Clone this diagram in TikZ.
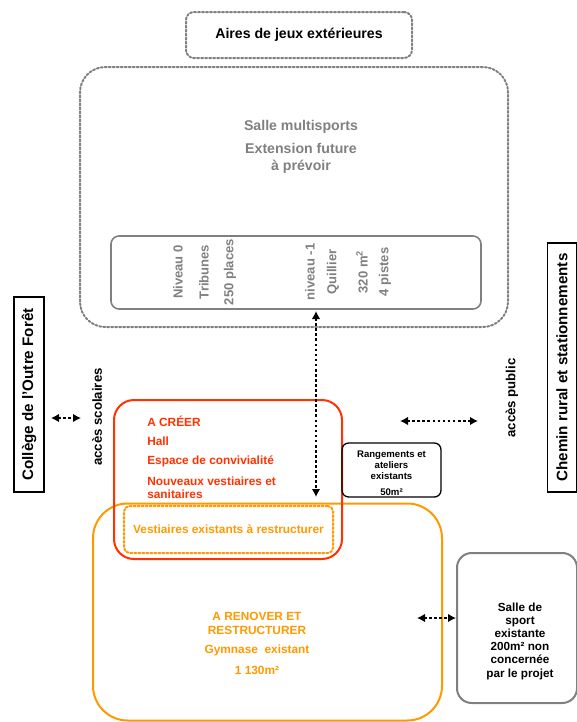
\documentclass[tikz,border=0pt]{standalone}
\usepackage{fontspec}
\setmainfont{Liberation Sans}
\usetikzlibrary{positioning,arrows.meta}
\definecolor{gris}{HTML}{808080}
\definecolor{rouge}{HTML}{FF3300}
\definecolor{jaune}{HTML}{FF9900}
\tikzset{>={Latex[length=6pt,width=6.5pt]}}
\tikzset{
  zone/.style = {draw, rounded corners=6pt, line width=1.5pt, inner sep=0pt},
  pointille/.style = {dash pattern=on 1.5pt off 1.5pt, line cap=round},
  txt/.style = {font=\bfseries\fontsize{10.6}{12}\selectfont, inner sep=0pt},
  moyen/.style = {font=\bfseries\fontsize{8.9}{10}\selectfont, inner sep=0pt},
  petit/.style = {font=\bfseries\fontsize{7.2}{8.25}\selectfont, inner sep=0pt, align=center},
  acces/.style = {<->, line width=2.2pt, dash pattern=on 2pt off 1.8pt}
}

\begin{document}
\begin{tikzpicture}[x=0.75pt,y=-0.75pt]
  \useasboundingbox (0,0) rectangle (577,722);
  % zones
  \node[zone,pointille,gris,line width=1.5pt,minimum width=169.5pt,minimum height=34.5pt] (aires) at (299,35) {};
  \node[txt] at (aires) {Aires de jeux extérieures};
  \node[zone,pointille,gris,line width=1.5pt,rounded corners=19pt,minimum width=321pt,minimum height=195pt] (salle) at (294,197) {};
  \node[txt,gris] (multi) at (301,127) {Salle multisports};
  \node[txt,gris,align=center,font=\bfseries\fontsize{10.6}{12.6}\selectfont] at (301,158) {Extension future\\à prévoir};
  \node[zone,gris,line width=1.2pt,minimum width=277.5pt,minimum height=54.75pt] (niveaux) at (296,272.5) {};
  \foreach \x/\t in {178/Niveau 0,204/Tribunes,230/250 places,310/niveau -1,333/Quillier,362/320 m\textsuperscript{2},385/4 pistes}
    \node[txt,gris,rotate=90,font=\bfseries\fontsize{9.8}{11}\selectfont] at (\x,272) {\t};
  % cotes
  \node[draw,line width=0.8pt,rotate=90,minimum width=146.25pt,minimum height=22.5pt,txt,inner sep=0pt,font=\bfseries\fontsize{11.4}{13}\selectfont] (college) at (29,394.5) {Collège de l'Outre Forêt};
  \node[draw,line width=0.8pt,rotate=90,minimum width=186.75pt,minimum height=21.75pt,txt,inner sep=0pt,font=\bfseries\fontsize{11.4}{13}\selectfont] (chemin) at (562,367.5) {Chemin rural et stationnements};
  \node[txt,rotate=90,font=\bfseries\fontsize{9.9}{11}\selectfont] (scol) at (97,417) {accès scolaires};
  \node[txt,rotate=90,font=\bfseries\fontsize{9.9}{11}\selectfont] (public) at (512,398) {accès public};
  % gymnase
  \node[zone,jaune,rounded corners=26pt,minimum width=261.75pt,minimum height=162.75pt] (renover) at (267.5,612) {};
  \node[zone,rouge,rounded corners=15pt,minimum width=171pt,minimum height=119.25pt] (creer) at (228,479.5) {};
  \node[zone,pointille,jaune,rounded corners=4pt,minimum width=156.75pt,minimum height=35.25pt] (vest) at (228.5,529.5) {};
  \node[moyen,jaune] at (vest) {Vestiaires existants à restructurer};
  \foreach \y/\t in {421/A CRÉER,441/Hall,461/Espace de convivialité}
    \node[moyen,rouge,anchor=west] at (147,\y) {\t};
  \node[moyen,rouge,anchor=west,align=left] at (147,487.5) {Nouveaux vestiaires et\\sanitaires};
  \node[moyen,jaune,align=center] at (257,623.5) {A RENOVER ET\\RESTRUCTURER};
  \node[moyen,jaune] at (257,650) {Gymnase\ \ existant};
  \node[moyen,jaune] at (257,670) {1 130m²};
  \node[zone,line width=1pt,rounded corners=5pt,minimum width=74.25pt,minimum height=40.5pt] (rang) at (391.5,470) {};
  \node[petit] at (391.5,465) {Rangements et\\ateliers\\existants};
  \node[petit] at (391.5,492) {50m²};
  \node[zone,gris,rounded corners=11pt,minimum width=90pt,minimum height=112.5pt] (sport) at (517,628) {};
  \node[petit,font=\bfseries\fontsize{8.8}{9.9}\selectfont] at (520,641) {Salle de\\sport\\existante\\200m² non\\concernée\\par le projet};
  % acces
  \coordinate (haut) at (316,311);
  \coordinate (bas) at (316,497);
  \draw[acces] (haut) -- (bas);
  \coordinate (scolA) at (51,418);
  \coordinate (scolB) at (81,418);
  \draw[acces] (scolA) -- (scolB);
  \coordinate (pubA) at (400,421);
  \coordinate (pubB) at (478,421);
  \draw[acces] (pubA) -- (pubB);
  \coordinate (gymA) at (417,618);
  \draw[acces] (gymA) -- (sport.west |- gymA);
\end{tikzpicture}
\end{document}
